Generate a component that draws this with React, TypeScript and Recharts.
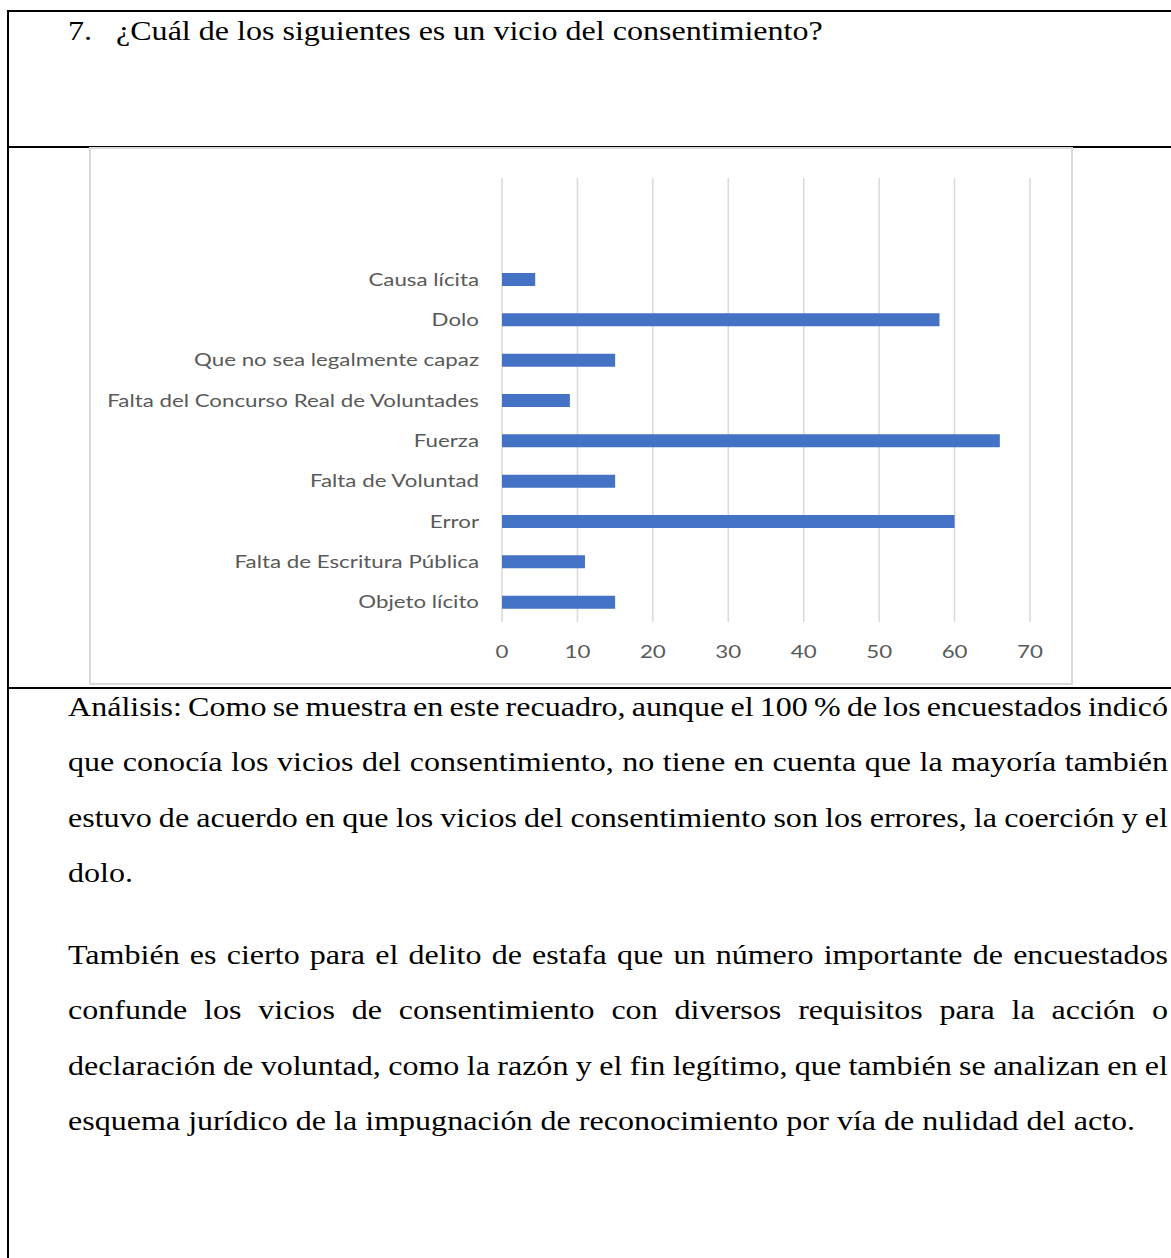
import { BarChart, Bar, XAxis, YAxis, CartesianGrid } from "recharts";

const categories = [
  "Causa lícita",
  "Dolo",
  "Que no sea legalmente capaz",
  "Falta del Concurso Real de Voluntades",
  "Fuerza",
  "Falta de Voluntad",
  "Error",
  "Falta de Escritura Pública",
  "Objeto lícito",
];
const counts = [4.4, 58, 15, 9, 66, 15, 60, 11, 15];
const xTicks = [0, 10, 20, 30, 40, 50, 60, 70];

const title = "¿Cuál de los siguientes es un vicio del consentimiento?";
const para1 = [
  "Análisis: Como se muestra en este recuadro, aunque el 100 % de los encuestados indicó",
  "que conocía los vicios del consentimiento, no tiene en cuenta que la mayoría también",
  "estuvo de acuerdo en que los vicios del consentimiento son los errores, la coerción y el",
  "dolo.",
];
const para2 = [
  "También es cierto para el delito de estafa que un número importante de encuestados",
  "confunde los vicios de consentimiento con diversos requisitos para la acción o",
  "declaración de voluntad, como la razón y el fin legítimo, que también se analizan en el",
  "esquema jurídico de la impugnación de reconocimiento por vía de nulidad del acto.",
];

const data = categories.map((name, i) => ({ name, value: counts[i] }));

const serif = "'Liberation Serif', 'Times New Roman', serif";
const sans = "Lato, 'Open Sans', sans-serif";
// the scanned page is a bit wider than tall, so text is stretched sideways
const SX = 1.187;
const TSX = 1.24;

function Lines({ lines, top }: { lines: string[]; top: number }) {
  return (
    <div
      style={{
        position: "absolute",
        left: 68,
        top,
        width: 1100 / SX,
        transform: `scaleX(${SX})`,
        transformOrigin: "0 0",
      }}
    >
      {lines.map((l, i) => {
        const last = i === lines.length - 1;
        return (
          <div
            key={i}
            style={{
              textAlign: last ? "left" : "justify",
              textAlignLast: last ? "left" : "justify",
              wordSpacing: last ? 0 : -6,
              whiteSpace: "nowrap",
              height: 55.3,
              lineHeight: "55.3px",
            }}
          >
            {l}
          </div>
        );
      })}
    </div>
  );
}

function YTick(props: any) {
  const { x, y, payload } = props;
  return (
    <text
      transform={`translate(${x},${y}) scale(${TSX},1)`}
      textAnchor="end"
      dy="0.355em"
      fill="#595959"
      fontSize={18}
      fontFamily={sans}
    >
      {payload.value}
    </text>
  );
}

function XTick(props: any) {
  const { x, y, payload } = props;
  return (
    <text
      transform={`translate(${x},${y}) scale(${TSX},1)`}
      textAnchor="middle"
      dy="0.71em"
      fill="#595959"
      fontSize={18}
      fontFamily={sans}
    >
      {payload.value}
    </text>
  );
}

export default function App() {
  const rule = (top: number) => (
    <div style={{ position: "absolute", left: 7, top, width: 1164, height: 2, background: "#000" }} />
  );
  const titleStyle = {
    position: "absolute" as const,
    top: 4,
    lineHeight: "55.3px",
    whiteSpace: "nowrap" as const,
    transform: `scaleX(${SX})`,
    transformOrigin: "0 0",
  };
  return (
    <div
      style={{
        position: "absolute",
        left: 0,
        top: 0,
        width: 1171,
        height: 1258,
        overflow: "hidden",
        background: "#fff",
        fontFamily: serif,
        fontSize: 27,
        color: "#000",
      }}
    >
      <div style={{ position: "absolute", left: 7, top: 10, width: 2, height: 1248, background: "#000" }} />
      {rule(10)}
      {rule(146)}
      {rule(687)}

      <div style={{ ...titleStyle, left: 68 }}>7.</div>
      <div style={{ ...titleStyle, left: 116 }}>{title}</div>

      <div
        style={{
          position: "absolute",
          left: 89,
          top: 147,
          width: 980,
          height: 534,
          border: "2px solid #d9d9d9",
          background: "#fff",
        }}
      >
        <BarChart
          width={980}
          height={534}
          data={data}
          layout="vertical"
          margin={{ top: 29, right: 41, bottom: 0, left: 0 }}
        >
          <CartesianGrid horizontal={false} stroke="#d9d9d9" strokeWidth={1.5} />
          <XAxis
            type="number"
            domain={[0, 70]}
            ticks={xTicks}
            axisLine={false}
            tickLine={false}
            tickMargin={17}
            height={61}
            interval={0}
            tick={<XTick />}
          />
          <YAxis
            type="category"
            dataKey="name"
            width={411}
            axisLine={false}
            tickLine={false}
            tickMargin={17}
            interval={0}
            padding={{ top: 81, bottom: 0 }}
            tick={<YTick />}
          />
          <Bar dataKey="value" fill="#4472C4" barSize={13} isAnimationActive={false} />
        </BarChart>
      </div>

      <Lines lines={para1} top={680} />
      <Lines lines={para2} top={928} />
    </div>
  );
}
